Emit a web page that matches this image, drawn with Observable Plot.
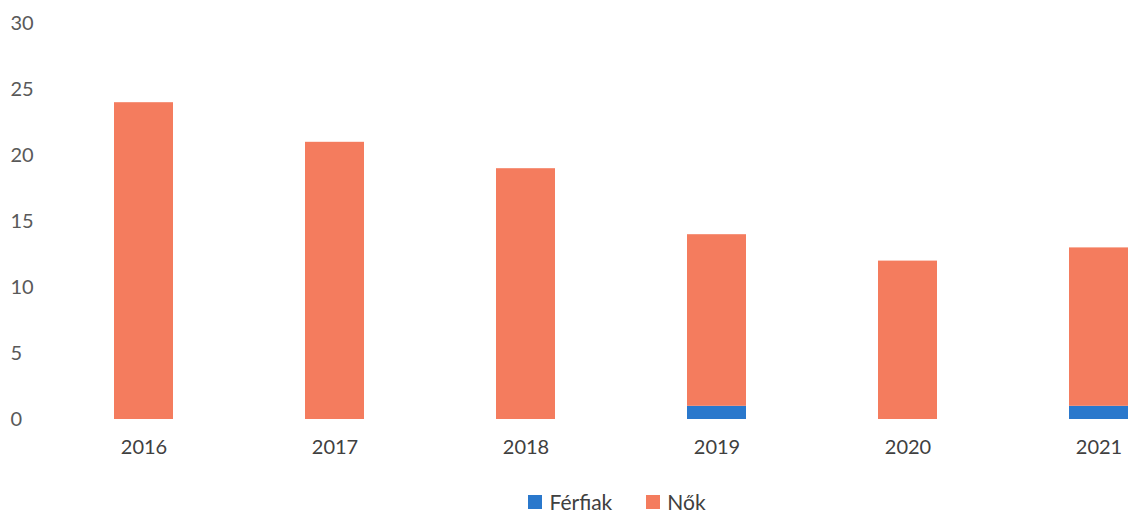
<!DOCTYPE html>
<html>
<head>
<meta charset="utf-8">
<script src="https://cdn.jsdelivr.net/npm/d3@7"></script>
<script src="https://cdn.jsdelivr.net/npm/@observablehq/plot@0.6"></script>
<style>
  html, body { margin: 0; padding: 0; background: #fff; }
  #chart { width: 1130px; overflow: hidden; font-family: Lato, "Open Sans", sans-serif; }
  .legend { display: flex; justify-content: center; align-items: center; gap: 34px; height: 24px; margin-top: 30px; line-height: 24px;
            font-family: Lato, "Open Sans", sans-serif; font-size: 21px; color: #404040; padding-left: 104px; box-sizing: border-box; }
  .legend span.item { display: inline-flex; align-items: center; gap: 7px; }
  .legend span.sw { width: 14px; height: 14px; display: inline-block; }
</style>
</head>
<body>
<div id="chart"></div>
<script>
const years = ["2016", "2017", "2018", "2019", "2020", "2021"];
const seriesNames = ["Férfiak", "Nők"];
const seriesColors = ["#2A78CC", "#F47C5E"];
const ferfiak = [0, 0, 0, 1, 0, 1];
const nok = [24, 21, 19, 13, 12, 12];
const yTicks = [0, 5, 10, 15, 20, 25, 30];

const rows = [];
years.forEach((y, i) => {
  rows.push({year: y, series: seriesNames[0], value: ferfiak[i]});
  rows.push({year: y, series: seriesNames[1], value: nok[i]});
});

const plot = Plot.plot({
  width: 1130,
  height: 460,
  marginLeft: 50,
  marginRight: 0,
  marginTop: 23,
  marginBottom: 41,
  style: {fontFamily: "Lato, 'Open Sans', sans-serif", fontSize: "20px", color: "#595959", background: "#fff"},
  x: {domain: years, range: [50, 1192], paddingInner: 0.69, paddingOuter: 0.33, label: null},
  y: {domain: [0, 30], ticks: yTicks, label: null},
  color: {domain: seriesNames, range: seriesColors},
  marks: [
    Plot.barY(rows, Plot.stackY({x: "year", y: "value", fill: "series", order: seriesNames})),
    Plot.axisY({ticks: yTicks, tickSize: 0, tickPadding: 40, textAnchor: "start", label: null, fontSize: 20, fill: "#595959"}),
    Plot.axisX({tickSize: 0, tickPadding: 20, label: null, fontSize: 20, fill: "#404040"})
  ]
});
document.getElementById("chart").appendChild(plot);

const legend = document.createElement("div");
legend.className = "legend";
seriesNames.forEach((n, i) => {
  const it = document.createElement("span");
  it.className = "item";
  const sw = document.createElement("span");
  sw.className = "sw";
  sw.style.background = seriesColors[i];
  const t = document.createElement("span");
  t.textContent = n;
  it.appendChild(sw); it.appendChild(t);
  legend.appendChild(it);
});
document.getElementById("chart").appendChild(legend);
</script>
</body>
</html>
